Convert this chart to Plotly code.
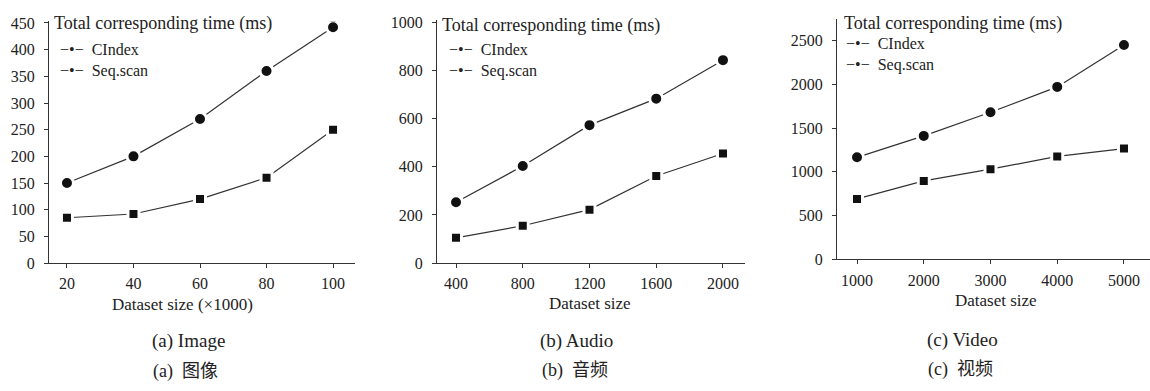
import plotly.graph_objects as go

W, H = 1150, 391

# ---------------- data ----------------
image_x = [20, 40, 60, 80, 100]
image_cindex = [85, 92, 120, 160, 250]
image_seq = [150, 200, 270, 360, 442]

audio_x = [400, 800, 1200, 1600, 2000]
audio_cindex = [105, 155, 222, 362, 455]
audio_seq = [253, 403, 573, 683, 843]

video_x = [1000, 2000, 3000, 4000, 5000]
video_cindex = [690, 895, 1030, 1175, 1265]
video_seq = [1165, 1410, 1680, 1970, 2450]

y_title = "Total corresponding time (ms)"
x_titles = ["Dataset size (×1000)", "Dataset size", "Dataset size"]
captions_en = ["(a) Image", "(b) Audio", "(c) Video"]
caption_tags = ["(a)", "(b)", "(c)"]
captions_zh = ["图像", "音频", "视频"]
series_names = ["CIndex", "Seq.scan"]

# ---------------- helpers ----------------
def px(x):
    return x / W

def py(y):
    return 1 - y / H

SERIF = "Liberation Serif"
INK = "#222222"
LINE = "#333333"

fig = go.Figure()

panels = [
    dict(x=image_x, c=image_cindex, s=image_seq, xa="x", ya="y"),
    dict(x=audio_x, c=audio_cindex, s=audio_seq, xa="x2", ya="y2"),
    dict(x=video_x, c=video_cindex, s=video_seq, xa="x3", ya="y3"),
]

for p in panels:
    fig.add_trace(go.Scatter(
        x=p["x"], y=p["c"], xaxis=p["xa"], yaxis=p["ya"], name=series_names[0],
        mode="lines+markers", showlegend=False,
        line=dict(color=LINE, width=1.2),
        marker=dict(symbol="square", size=11, color="#111111",
                    line=dict(color="white", width=3)),
    ))
    fig.add_trace(go.Scatter(
        x=p["x"], y=p["s"], xaxis=p["xa"], yaxis=p["ya"], name=series_names[1],
        mode="lines+markers", showlegend=False,
        line=dict(color=LINE, width=1.2),
        marker=dict(symbol="circle", size=13, color="#111111",
                    line=dict(color="white", width=3)),
    ))

axis_common = dict(
    showgrid=False, zeroline=False, showline=True, linecolor=LINE, linewidth=1.2,
    ticks="outside", ticklen=4, tickcolor=LINE, tickwidth=1.2,
    tickfont=dict(family=SERIF, size=16, color=INK),
)

# panel geometry (pixels)
geo = [
    dict(l=49, r=355, top=15, bot=267, xr=[14.6, 106.6], yr=[0, 453], dt=50, x0=20, dx=20),
    dict(l=437, r=745, top=14, bot=267, xr=[286, 2132], yr=[0, 1008], dt=200, x0=400, dx=400),
    dict(l=837, r=1150, top=12, bot=263, xr=[700, 5390], yr=[0, 2752], dt=500, x0=1000, dx=1000),
]

layout_axes = {}
for i, g in enumerate(geo):
    sfx = "" if i == 0 else str(i + 1)
    layout_axes["xaxis" + sfx] = dict(
        axis_common, domain=[px(g["l"]), px(g["r"])], range=g["xr"],
        anchor="y" + sfx, tick0=g["x0"], dtick=g["dx"], ticklabelstandoff=2,
    )
    layout_axes["yaxis" + sfx] = dict(
        axis_common, domain=[py(g["bot"]), py(g["top"])], range=g["yr"],
        anchor="x" + sfx, tick0=0, dtick=g["dt"], ticklabelstandoff=6,
    )

fig.update_layout(**layout_axes)

ann = []
# y titles
for (x, y) in [(52, 17), (440, 19), (842, 17)]:
    ann.append(dict(text=y_title, x=px(x), y=py(y), xref="paper", yref="paper",
                    xanchor="left", yanchor="middle", showarrow=False,
                    font=dict(family=SERIF, size=18, color=INK)))
# legends (one block per panel)
for (sx, yy) in [(59, 56), (448, 56), (845, 50)]:
    txt = "<br>".join("−•−  " + n for n in series_names)
    ann.append(dict(text=txt, x=px(sx), y=py(yy), xref="paper", yref="paper",
                    xanchor="left", yanchor="middle", align="left", showarrow=False,
                    borderpad=0,
                    font=dict(family=SERIF, size=16, color=INK)))
# x titles
for (t, x, y) in zip(x_titles, [182, 590, 996], [310, 309, 306]):
    ann.append(dict(text=t, x=px(x), y=py(y), xref="paper", yref="paper",
                    xanchor="center", yanchor="middle", showarrow=False,
                    borderpad=0,
                    font=dict(family=SERIF, size=17, color=INK)))
# captions
for (t, x, y) in zip(captions_en, [150, 538, 925], [348, 348, 347]):
    ann.append(dict(text=t, x=px(x), y=py(y), xref="paper", yref="paper",
                    xanchor="left", yanchor="middle", showarrow=False,
                    font=dict(family=SERIF, size=19, color=INK)))
for (tag, t, x, y) in zip(caption_tags, captions_zh, [151, 540, 926], [377, 376, 375]):
    txt = tag + '  <span style="font-family:\'Noto Sans CJK SC\'">' + t + "</span>"
    ann.append(dict(text=txt, x=px(x), y=py(y), xref="paper", yref="paper",
                    xanchor="left", yanchor="middle", showarrow=False,
                    font=dict(family=SERIF, size=18, color=INK)))

fig.update_layout(
    width=W, height=H, margin=dict(l=0, r=0, t=0, b=0),
    paper_bgcolor="white", plot_bgcolor="white",
    showlegend=False, annotations=ann,
)

fig.write_html("out.html")
